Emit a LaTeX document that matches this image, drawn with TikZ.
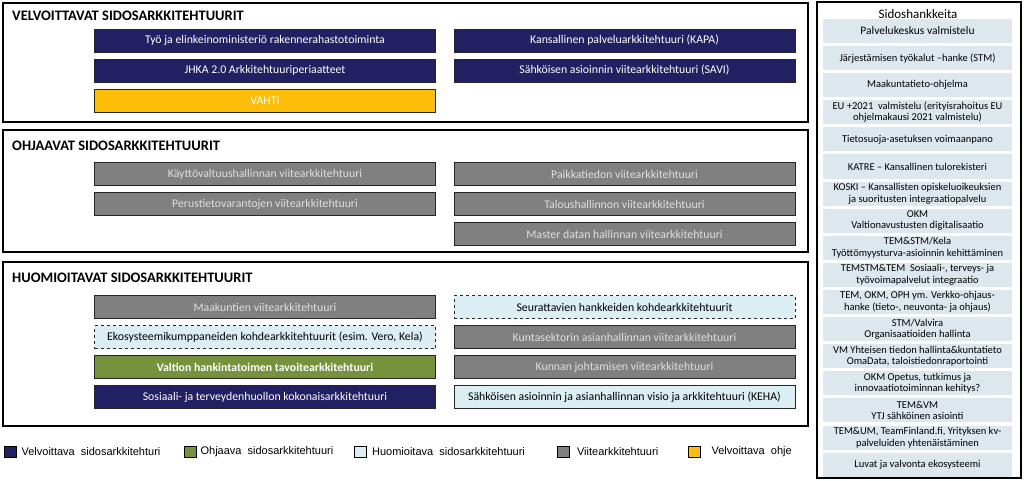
\documentclass[tikz,border=0pt]{standalone}
\usepackage{fontspec}
\setmainfont{Carlito}
\newfontfamily\legfont{Liberation Sans}
\usepackage{tikz}
\usetikzlibrary{positioning}
\definecolor{navy}{RGB}{32,32,98}
\definecolor{gold}{RGB}{252,190,8}
\definecolor{refgray}{RGB}{128,128,128}
\definecolor{olive}{RGB}{118,146,60}
\definecolor{pale}{RGB}{218,238,243}
\definecolor{sidefill}{RGB}{220,232,238}
\tikzstyle{panel} = [draw=black, line width=1.6pt]
\tikzstyle{title} = [anchor=west, inner sep=0pt, font=\bfseries\fontsize{14.5}{16}\selectfont]
\tikzstyle{arch} = [rectangle, minimum width=341pt, minimum height=23pt, inner sep=0pt, text centered, draw=black!85, line width=0.8pt, font=\fontsize{11.8}{13}\selectfont]
\tikzstyle{mandatory} = [arch, fill=navy, text=white]
\tikzstyle{guide} = [arch, fill=gold, text=white]
\tikzstyle{reference} = [arch, fill=refgray, text=white!88!black]
\tikzstyle{steering} = [arch, fill=olive, text=white, font=\bfseries\fontsize{11.8}{13}\selectfont]
\tikzstyle{noted} = [arch, fill=pale, text=black]
\tikzstyle{followed} = [noted, dashed]
\tikzstyle{project} = [rectangle, minimum width=189pt, minimum height=24pt, inner sep=0pt, align=center, fill=sidefill, font=\fontsize{10.5}{11.5}\selectfont]
\tikzstyle{bigproject} = [project, font=\fontsize{11.5}{12}\selectfont]
\tikzstyle{legbox} = [rectangle, minimum width=12pt, minimum height=11pt, inner sep=0pt, draw=black, line width=0.8pt]
\tikzstyle{legtext} = [inner sep=0pt, font=\legfont\fontsize{11}{12}\selectfont]

\begin{document}
\begin{tikzpicture}[x=1pt, y=-1pt, node distance=30pt]
    \useasboundingbox (0,0) rectangle (1024,481);
    % velvoittavat
    \draw [panel] (3,3) rectangle (808,122);
    \node (velv) [title] at (12,16) {VELVOITTAVAT SIDOSARKKITEHTUURIT};
    \node (tem) [mandatory] at (265,40.5) {Työ ja elinkeinoministeriö rakennerahastotoiminta};
    \node (jhka) [mandatory, below of=tem] {JHKA 2.0 Arkkitehtuuriperiaatteet};
    \node (vahti) [guide, below of=jhka] {VAHTI};
    \node (kapa) [mandatory] at (624.5,40.5) {Kansallinen palveluarkkitehtuuri (KAPA)};
    \node (savi) [mandatory, below of=kapa] {Sähköisen asioinnin viitearkkitehtuuri (SAVI)};
    % ohjaavat
    \draw [panel] (3,130) rectangle (808,252);
    \node (ohj) [title] at (12,146) {OHJAAVAT SIDOSARKKITEHTUURIT};
    \node (kayt) [reference] at (265,174) {Käyttövaltuushallinnan viitearkkitehtuuri};
    \node (perus) [reference, below of=kayt] {Perustietovarantojen viitearkkitehtuuri};
    \node (paikka) [reference] at (624.5,174) {Paikkatiedon viitearkkitehtuuri};
    \node (talous) [reference, below of=paikka] {Taloushallinnon viitearkkitehtuuri};
    \node (master) [reference, below of=talous] {Master datan hallinnan viitearkkitehtuuri};
    % huomioitavat
    \draw [panel] (3,262) rectangle (808,426);
    \node (huom) [title] at (12,278) {HUOMIOITAVAT SIDOSARKKITEHTUURIT};
    \node (maak) [reference] at (265,307) {Maakuntien viitearkkitehtuuri};
    \node (eko) [followed, below of=maak] {Ekosysteemikumppaneiden kohdearkkitehtuurit (esim. Vero, Kela)};
    \node (hank) [steering, below of=eko] {Valtion hankintatoimen tavoitearkkitehtuuri};
    \node (sote) [mandatory, below of=hank] {Sosiaali- ja terveydenhuollon kokonaisarkkitehtuuri};
    \node (seur) [followed] at (624.5,307) {Seurattavien hankkeiden kohdearkkitehtuurit};
    \node (kunta) [reference, below of=seur] {Kuntasektorin asianhallinnan viitearkkitehtuuri};
    \node (johto) [reference, below of=kunta] {Kunnan johtamisen viitearkkitehtuuri};
    \node (keha) [noted, below of=johto] {Sähköisen asioinnin ja asianhallinnan visio ja arkkitehtuuri (KEHA)};
    % sidoshankkeet
    \draw [panel] (817,2) rectangle (1021,478);
    \node (sidos) [font=\fontsize{13}{14}\selectfont] at (918,14) {Sidoshankkeita};
    \begin{scope}[node distance=27.1pt]
    \node (p1) [bigproject] at (917.5,31) {Palvelukeskus valmistelu};
    \node (p2) [project, below of=p1] {Järjestämisen työkalut –hanke (STM)};
    \node (p3) [project, below of=p2] {Maakuntatieto-ohjelma};
    \node (p4) [project, below of=p3] {EU +2021~ valmistelu (erityisrahoitus EU\\ohjelmakausi 2021 valmistelu)};
    \node (p5) [project, below of=p4] {Tietosuoja-asetuksen voimaanpano};
    \node (p6) [project, below of=p5] {KATRE – Kansallinen tulorekisteri};
    \node (p7) [project, below of=p6] {KOSKI – Kansallisten opiskeluoikeuksien\\ja suoritusten integraatiopalvelu};
    \node (p8) [project, below of=p7] {OKM\\Valtionavustusten digitalisaatio};
    \node (p9) [project, below of=p8] {TEM\&STM/Kela\\Työttömyysturva-asioinnin kehittäminen};
    \node (p10) [project, below of=p9] {TEMSTM\&TEM~ Sosiaali-, terveys- ja\\työvoimapalvelut integraatio};
    \node (p11) [project, below of=p10] {TEM, OKM, OPH ym. Verkko-ohjaus-\\hanke (tieto-, neuvonta- ja ohjaus)};
    \node (p12) [project, below of=p11] {STM/Valvira\\Organisaatioiden hallinta};
    \node (p13) [project, below of=p12] {VM Yhteisen tiedon hallinta\&kuntatieto\\OmaData, taloistiedonraportointi};
    \node (p14) [project, below of=p13] {OKM Opetus, tutkimus ja\\innovaatiotoiminnan kehitys?};
    \node (p15) [project, below of=p14] {TEM\&VM\\YTJ sähköinen asiointi};
    \node (p16) [project, below of=p15] {TEM\&UM, TeamFinland.fi, Yrityksen kv-\\palveluiden yhtenäistäminen};
    \node (p17) [project, below of=p16] {Luvat ja valvonta ekosysteemi};
    \end{scope}
    % selitteet
    \node (lg1) [legbox, fill=navy] at (10,451.5) {};
    \node (lt1) [legtext, right=5pt of lg1] {Velvoittava~ sidosarkkitehturi};
    \node (lg2) [legbox, fill=olive] at (190,451.5) {};
    \node (lt2) [legtext, right=4pt of lg2] {Ohjaava~ sidosarkkitehtuuri};
    \node (lg3) [legbox, fill=pale] at (360.5,451.5) {};
    \node (lt3) [legtext, right=5pt of lg3] {Huomioitava~ sidosarkkitehtuuri};
    \node (lg4) [legbox, fill=refgray] at (563.5,451.5) {};
    \node (lt4) [legtext, right=7pt of lg4] {Viitearkkitehtuuri};
    \node (lg5) [legbox, fill=gold] at (694,451.5) {};
    \node (lt5) [legtext, right=11pt of lg5] {Velvoittava~ ohje};
\end{tikzpicture}
\end{document}
